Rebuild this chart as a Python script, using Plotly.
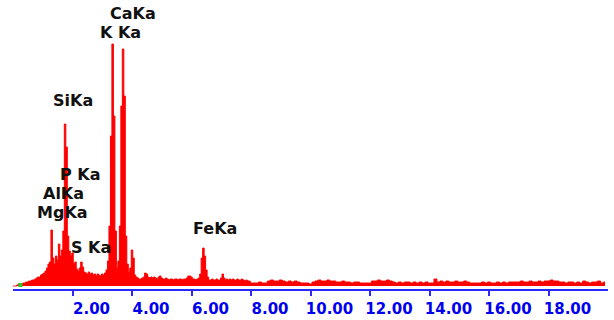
import numpy as np
import plotly.graph_objects as go

# Spectrum counts, low-energy region: channels of 0.05 keV starting at 0.00 keV
low_step = 0.05
low_counts = [
    0, 0, 0, 1, 2, 1, 2, 3, 3, 4,
    4, 5, 5, 6, 6, 7, 8, 9, 9, 11,
    12, 13, 15, 18, 22, 24, 56, 28, 22, 30,
    26, 42, 30, 36, 55, 162, 139, 50, 35, 30,
    33, 22, 24, 17, 15, 18, 24, 19, 14, 13,
    12, 14, 12, 13, 11, 12, 10, 12, 11, 10,
    12, 11, 13, 16, 25, 60, 150, 242, 170, 55,
    18, 25, 60, 180, 237, 190, 50, 22, 14, 18,
    36, 28, 11, 9, 8, 7, 7, 8, 9, 13,
    12, 9, 8, 9, 8, 9, 8, 7, 9, 10,
    8, 7, 7, 8, 7, 6, 7, 7, 6, 7,
    7, 6, 7, 7, 6, 7, 7, 8, 10, 10,
    9, 7, 7, 6, 7, 8, 12, 28, 38, 30,
    16, 9, 6, 6, 7, 6, 6, 7, 6, 6,
    8, 12, 8, 6, 7, 6, 7, 6, 7, 6,
    6, 7, 6, 6, 7, 6, 5, 6, 5, 5,
]

# Spectrum counts, high-energy region: channels of 0.1 keV starting at 8.00 keV
high_start = 8.0
high_step = 0.1
high_counts = [
    3, 3, 3, 4, 3, 3, 5, 6, 5, 5,
    6, 5, 4, 5, 4, 5, 4, 3, 3, 3,
    2, 4, 5, 6, 5, 5, 6, 5, 5, 4,
    4, 5, 4, 4, 3, 4, 4, 3, 3, 3,
    3, 5, 5, 6, 5, 5, 6, 5, 4, 3,
    4, 3, 4, 4, 3, 4, 3, 4, 3, 4,
    3, 3, 7, 4, 5, 4, 5, 4, 4, 5,
    4, 4, 5, 4, 3, 3, 3, 3, 4, 3,
    4, 3, 3, 4, 3, 4, 3, 4, 4, 4,
    4, 5, 4, 4, 5, 4, 4, 5, 4, 5,
    5, 6, 5, 5, 4, 4, 3, 4, 4, 3,
    4, 3, 5, 4, 3, 4, 4, 5, 3, 4,
]

# Marker dot near zero energy
marker_energy = [0.25]
marker_count = [1]

tick_values = [2, 4, 6, 8, 10, 12, 14, 16, 18]
tick_labels = ["2.00", "4.00", "6.00", "8.00", "10.00", "12.00", "14.00", "16.00", "18.00"]

peak_labels = ["CaKa", "K Ka", "SiKa", "P Ka", "AlKa", "MgKa", "S Ka", "FeKa"]
label_energy = [4.04, 3.62, 2.03, 2.26, 1.69, 1.67, 2.61, 6.78]
label_level = [273, 254, 186, 112, 93, 74, 39, 58]

energy = np.concatenate([
    np.arange(len(low_counts)) * low_step,
    high_start + np.arange(len(high_counts)) * high_step,
])
counts = np.array(low_counts + high_counts)

fig = go.Figure()
fig.add_trace(go.Scatter(
    x=energy, y=counts, mode="lines", line=dict(color="#ff0000", width=1, shape="hvh"),
    fill="tozeroy", fillcolor="#ff0000", hoverinfo="skip", showlegend=False,
))
fig.add_trace(go.Scatter(
    x=marker_energy, y=marker_count, mode="markers",
    marker=dict(color="#22cc22", size=4, symbol="square"), showlegend=False,
))

for txt, ex, ey in zip(peak_labels, label_energy, label_level):
    fig.add_annotation(
        x=ex, y=ey, xref="x", yref="y", text="<b>" + txt + "</b>", showarrow=False,
        xanchor="center", yanchor="middle",
        font=dict(family="DejaVu Sans", size=16, color="#111111"),
    )

fig.update_layout(
    width=614, height=320,
    margin=dict(l=13, r=6, t=0, b=31),
    paper_bgcolor="white", plot_bgcolor="white",
    xaxis=dict(
        range=[0, 20], showgrid=False, zeroline=False,
        showline=True, linecolor="#2a2aff", linewidth=2,
        ticks="outside", ticklen=5, tickwidth=2, tickcolor="#2a2aff",
        tickvals=tick_values, ticktext=tick_labels,
        ticklabelshift=19,
        tickfont=dict(family="DejaVu Sans", size=15, color="#0000ee", weight="bold"),
    ),
    yaxis=dict(range=[-3, 286], visible=False, showgrid=False, zeroline=False),
)

fig.write_html("out.html")
